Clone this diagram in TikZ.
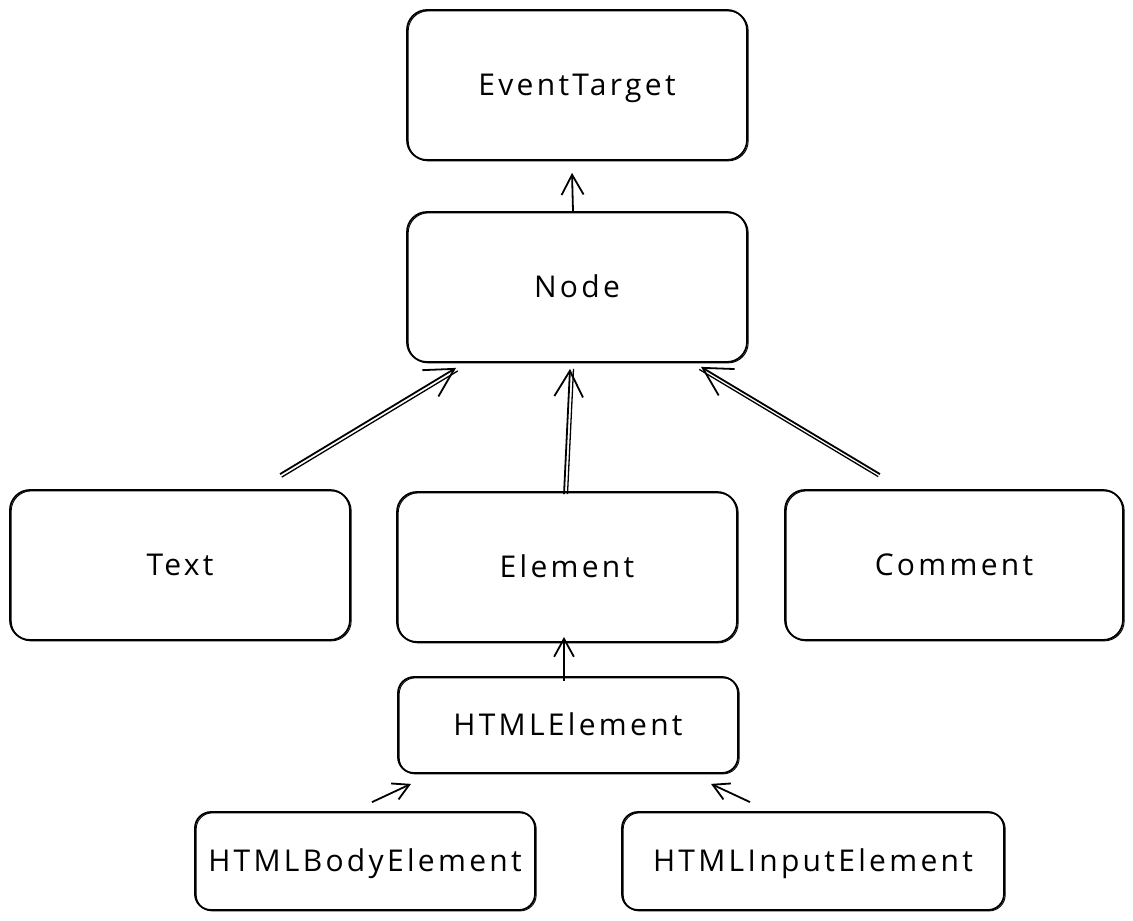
\documentclass[tikz,border=0pt]{standalone}
\usepackage{fontspec}
\setmainfont{Open Sans}[LetterSpace=11]
\usetikzlibrary{arrows.meta,calc}
\begin{document}
\begin{tikzpicture}[x=1pt,y=-1pt,
  box/.style={draw, line width=1.8pt, rounded corners=20pt, inner sep=0pt,
    font=\fontsize{30}{32}\selectfont, text=black, text height=21pt, text depth=1pt,
    postaction={draw, line width=0.9pt, transform canvas={shift={(1.2pt,-0.9pt)}}}},
  arr/.style={draw, line width=1.8pt, -{Straight Barb[length=#1, width=1.1*#1, line width=1.8pt]}},
  arr/.default=20pt,
  twin/.style={postaction={draw, -, line width=1.3pt, transform canvas={shift={#1}}}}
]
\useasboundingbox (0,0) rectangle (1133,921);
\node[box, minimum width=340pt, minimum height=150pt] (et) at (577,85) {EventTarget};
\node[box, minimum width=340pt, minimum height=150pt] (nd) at (577,287) {Node};
\node[box, minimum width=340pt, minimum height=150pt] (tx) at (180,565) {Text};
\node[box, minimum width=340pt, minimum height=150pt] (el) at (567,567) {Element};
\node[box, minimum width=338pt, minimum height=150pt] (cm) at (954,565) {Comment};
\node[box, minimum width=340pt, minimum height=96pt, rounded corners=16pt] (he) at (568,725) {HTMLElement};
\node[box, minimum width=340pt, minimum height=98pt, rounded corners=16pt] (hb) at (365,861) {HTMLBodyElement};
\node[box, minimum width=382pt, minimum height=98pt, rounded corners=16pt] (hi) at (813,861) {HTMLInputElement};

\draw[arr=20pt] ($(nd.north)+(-4,0)$) -- ($(et.south)+(-5,12)$);
\draw[arr=28pt, twin={(1.8pt,-3pt)}] ($(tx.north)+(100,-15)$) -- ($(nd.south)+(-121,5)$);
\draw[arr=26pt, twin={(3.5pt,0pt)}] ($(el.north)+(-3,3)$) -- ($(nd.south)+(-7,6)$);
\draw[arr=28pt, twin={(-1.8pt,-2.5pt)}] ($(cm.north)+(-74,-15)$) -- ($(nd.south)+(124,4)$);
\draw[arr=18pt] ($(he.north)+(-4,5)$) -- ($(el.south)+(-3,-6)$);
\draw[arr=16pt] ($(hb.north)+(7,-9)$) -- ($(he.south)+(-157,10)$);
\draw[arr=16pt] ($(hi.north)+(-63,-9)$) -- ($(he.south)+(143,10)$);
\end{tikzpicture}
\end{document}
